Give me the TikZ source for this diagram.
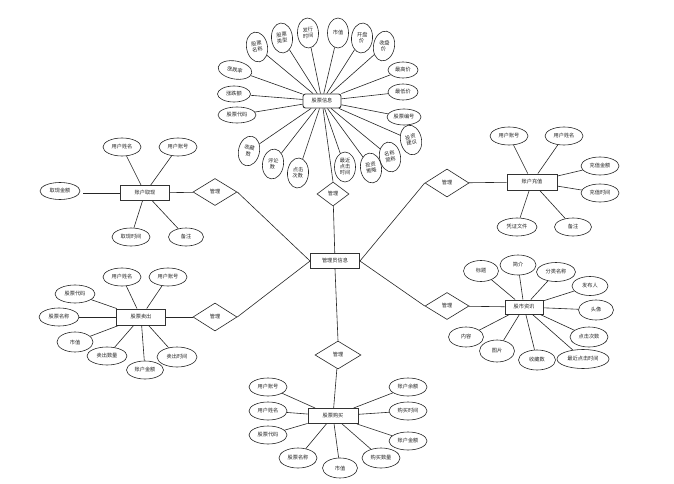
\documentclass[tikz,border=0pt]{standalone}
\usepackage{fontspec}
\newfontfamily\cjk{Noto Sans CJK SC}
\usetikzlibrary{shapes.geometric}
\begin{document}
\begin{tikzpicture}[x=1pt,y=-1pt,
  every node/.style={font=\cjk\fontsize{5.2}{6}\selectfont, text=black!85},
  attr/.style={ellipse, draw=black!85, line width=0.6pt, minimum width=38pt, minimum height=18pt, inner sep=0pt, align=center},
  vatt/.style={attr, minimum width=21pt, minimum height=30pt},
  ent/.style={rectangle, draw=black!80, line width=0.9pt, minimum width=49pt, minimum height=15pt, inner sep=1pt},
  rel/.style={diamond, draw=black!85, line width=0.6pt, minimum width=44pt, minimum height=27pt, inner sep=0pt},
  lk/.style={draw=black!85, line width=0.6pt}]
\useasboundingbox (0,0) rectangle (674,484);
\fill[white] (0,0) rectangle (674,484);

% centre
\node[ent] (adm) at (335,261) {管理员信息};

% stock info
\node[ent, rounded corners=2.5pt, minimum width=38pt, minimum height=14pt] (gp) at (322,101) {股票信息};
\node[attr, minimum width=34pt, rotate=-10] (a1) at (235,70) {涨跌率};
\node[attr, minimum width=33pt, minimum height=16pt] (a2) at (234,94) {涨跌额};
\node[attr, minimum width=38pt, minimum height=16pt] (a3) at (237,115) {股票代码};
\node[vatt, rotate=10] (a4) at (257,47) {股票\\名称};
\node[vatt, rotate=5] (a5) at (282,38) {股票\\类型};
\node[vatt, rotate=3] (a6) at (308,33) {发行\\时间};
\node[vatt] (a7) at (338,33) {市值};
\node[vatt, rotate=-5] (a8) at (362,38) {开盘\\价};
\node[vatt, rotate=-10] (a9) at (384,46) {收盘\\价};
\node[attr, minimum width=30pt, minimum height=16pt] (a10) at (403,70) {最高价};
\node[attr, minimum width=30pt, minimum height=16pt] (a11) at (403,92) {最低价};
\node[attr, minimum width=34pt, minimum height=16pt] (a12) at (404,117) {股票编号};
\node[vatt, rotate=-12] (a13) at (249,151) {收藏\\数};
\node[vatt, rotate=-8] (a14) at (273,164) {评论\\数};
\node[vatt, rotate=-4] (a15) at (298,173) {点击\\次数};
\node[vatt, minimum height=30pt] (a16) at (345,167) {最近\\点击\\时间};
\node[vatt, rotate=8] (a17) at (371,168) {投资\\策略};
\node[vatt, rotate=10] (a18) at (390,157) {名称\\简称};
\node[vatt, rotate=12] (a19) at (411,140) {投资\\建议};
\foreach \i in {1,...,19} \draw[lk] (gp) -- (a\i);
\node[rel, minimum width=32pt, minimum height=24pt] (r0) at (333,194) {管理};
\draw[lk] (gp) -- (r0.north);
\draw[lk] (r0) -- (adm);

% withdraw
\node[ent] (qx) at (145,193) {账户取现};
\node[attr] (b1) at (122,147) {用户姓名};
\node[attr] (b2) at (178,147) {用户账号};
\node[attr, minimum width=40pt, minimum height=17pt] (b3) at (60,191) {取现金额};
\node[attr] (b4) at (131,237) {取现时间};
\node[attr, minimum width=35pt] (b5) at (186,237) {备注};
\foreach \i in {1,2,4,5} \draw[lk] (qx) -- (b\i);
\draw[lk] (qx.west) -- ++(-37,0) coordinate (b3e);
\node[rel] (r1) at (215,192) {管理};
\draw[lk] (qx) -- (r1);
\draw[lk] (r1.east) -- (adm.west);

% recharge
\node[ent, minimum width=50pt, minimum height=16pt] (cz) at (532,182) {账户充值};
\node[attr] (c1) at (509,136) {用户账号};
\node[attr] (c2) at (564,136) {用户姓名};
\node[attr] (c3) at (600,166) {充值金额};
\node[attr] (c4) at (600,193) {充值时间};
\node[attr, minimum width=40pt] (c5) at (517,227) {凭证文件};
\node[attr, minimum width=37pt] (c6) at (573,227) {备注};
\foreach \i in {1,...,6} \draw[lk] (cz) -- (c\i);
\node[rel, minimum height=28pt] (r2) at (447,183) {管理};
\draw[lk] (r2) -- (cz);
\draw[lk] (r2.west) -- (adm.east);

% sell
\node[ent, minimum height=16pt] (mc) at (141,317) {股票卖出};
\node[attr] (d1) at (122,277) {用户姓名};
\node[attr] (d2) at (168,277) {用户账号};
\node[attr, minimum width=40pt] (d3) at (75,294) {股票代码};
\node[attr, minimum width=40pt] (d4) at (59,317) {股票名称};
\node[attr, minimum width=36pt, minimum height=20pt] (d5) at (75,342) {市值};
\node[attr, minimum width=40pt] (d6) at (107,356) {卖出数量};
\node[attr, minimum width=37pt] (d7) at (145,370) {账户金额};
\node[attr, minimum width=40pt, minimum height=20pt] (d8) at (177,357) {卖出时间};
\foreach \i in {1,...,8} \draw[lk] (mc) -- (d\i);
\node[rel, minimum height=28pt] (r3) at (215,317) {管理};
\draw[lk] (mc) -- (r3);
\draw[lk] (r3.east) -- (adm.west);

% news
\node[ent, minimum width=38pt, minimum height=14pt] (zx) at (524,307) {股市资讯};
\node[attr, minimum width=35pt, minimum height=21pt] (e1) at (481,271) {标题};
\node[attr, minimum width=36pt, minimum height=20pt] (e2) at (518,265) {简介};
\node[attr, minimum width=39pt, minimum height=19pt] (e3) at (556,272) {分类名称};
\node[attr, minimum width=36pt, minimum height=19pt] (e4) at (590,286) {发布人};
\node[attr, minimum width=35pt, minimum height=20pt] (e5) at (596,310) {头像};
\node[attr, minimum width=38pt, minimum height=20pt] (e6) at (589,337) {点击次数};
\node[attr, minimum width=52pt, minimum height=19pt] (e7) at (583,359) {最近点击时间};
\node[attr, minimum width=37pt, minimum height=20pt] (e8) at (537,360) {收藏数};
\node[attr, minimum width=35pt, minimum height=22pt] (e9) at (497,351) {图片};
\node[attr, minimum width=35pt, minimum height=20pt] (e10) at (466,337) {内容};
\foreach \i in {1,...,10} \draw[lk] (zx) -- (e\i);
\node[rel] (r4) at (447,306) {管理};
\draw[lk] (r4) -- (zx);
\draw[lk] (r4.west) -- (adm.east);

% buy
\node[ent, minimum width=50pt] (gm) at (333,416) {股票购买};
\node[attr] (f1) at (268,387) {用户账号};
\node[attr] (f2) at (268,411) {用户姓名};
\node[attr] (f3) at (268,435) {股票代码};
\node[attr, minimum height=20pt] (f4) at (298,458) {股票名称};
\node[attr, minimum width=35pt, minimum height=20pt] (f5) at (340,468) {市值};
\node[attr, minimum height=20pt] (f6) at (381,458) {购买数量};
\node[attr] (f7) at (408,387) {账户余额};
\node[attr] (f8) at (408,411) {购买时间};
\node[attr] (f9) at (408,441) {账户金额};
\foreach \i in {1,...,9} \draw[lk] (gm) -- (f\i);
\node[rel, minimum width=46pt, minimum height=28pt] (r5) at (338,355) {管理};
\draw[lk] (r5) -- (gm);
\draw[lk] (r5.north) -- (adm.south);
\end{tikzpicture}
\end{document}
